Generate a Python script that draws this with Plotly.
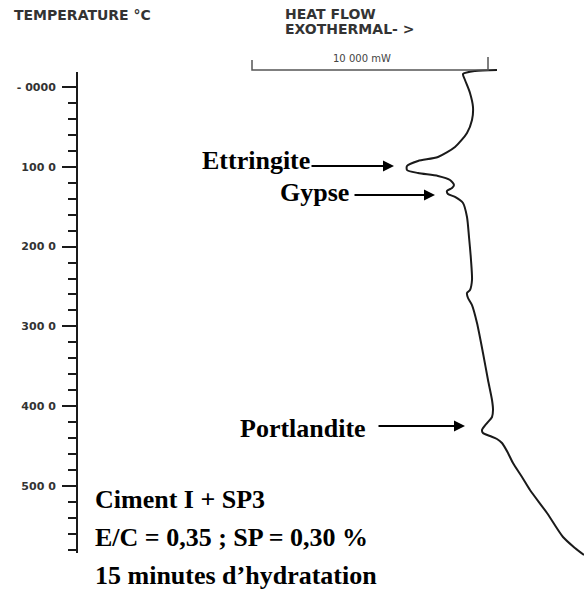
import plotly.graph_objects as go

# ---------------- data ----------------
# heat flow in mW (arbitrary zero at left end of the 10 000 mW scale bar), temperature in deg C
heat_flow_mw = [10381, 9449, 8941, 9025, 9237, 9364, 9322, 9110, 8602, 7881,
                7034, 6568, 6568, 7034, 7881, 8390, 8559, 8475, 8263, 8305,
                8602, 8941, 9110, 9195, 9280, 9322, 9237, 9110, 9153, 9322,
                9534, 9788, 10000, 10170, 10212, 10170, 9958, 9746, 9788, 10085,
                10381, 10593, 10847, 11059, 11441, 11780, 12500, 13178, 13686, 14068]
temperature_c = [-21.3, -20.1, -16.3, -8.8, 7.5, 25.1, 41.4, 57.6, 75.2, 87.7,
                 92.7, 99.0, 104.0, 107.8, 111.5, 116.5, 122.8, 126.6, 130.3, 134.1,
                 137.8, 145.4, 162.9, 188.0, 216.8, 241.9, 254.4, 258.1, 264.4, 273.2,
                 295.7, 333.3, 367.2, 392.2, 404.8, 413.5, 421.1, 429.8, 433.6, 437.3,
                 441.1, 446.1, 458.6, 471.2, 488.7, 505.0, 533.8, 563.9, 577.7, 586.5]

major_ticks = [0, 100, 200, 300, 400, 500]
major_labels = ["- 0000", "100 0", "200 0", "300 0", "400 0", "500 0"]
minor_ticks = [20, 40, 60, 80, 120, 140, 160, 180, 220, 240, 260, 280,
               320, 340, 360, 380, 420, 440, 460, 480, 520, 540, 560, 580]
axis_span_c = [-18.8, 584.0]

scale_bar_mw = [0, 10000]
scale_bar_label = "10 000 mW"

peak_labels = ["Ettringite", "Gypse", "Portlandite"]
peak_temps = [99.0, 135.3, 424.8]
arrow_tip_mw = [6017, 7754, 9025]
arrow_tail_mw = [2458, 4280, 5297]

info_lines = ["Ciment I + SP3", "E/C = 0,35 ; SP = 0,30 %", "15 minutes d\u2019hydratation"]

# ---------------- figure ----------------
W, H = 584, 590
def px(x):
    return x / W
def py(y):
    return 1 - y / H

ink = "#1a1a1a"
gray = "#333333"
mono = dict(family="DejaVu Sans", size=14, color=gray, weight="bold")
serif = dict(family="Liberation Serif", size=26, color="black", weight="bold")

fig = go.Figure()

# thermogram curve
fig.add_trace(go.Scatter(x=heat_flow_mw, y=temperature_c, mode="lines",
                         line=dict(color=ink, width=2, shape="spline", smoothing=0.7),
                         hoverinfo="skip", showlegend=False))

# scale bar (10 000 mW) with end ticks
bar_y = -21.3
fig.add_trace(go.Scatter(x=[scale_bar_mw[0], scale_bar_mw[0], scale_bar_mw[1], scale_bar_mw[1]],
                         y=[-33.8, bar_y, bar_y, -37.6],
                         mode="lines", line=dict(color="#555555", width=1.5),
                         hoverinfo="skip", showlegend=False))

# temperature axis line
fig.add_shape(type="line", xref="paper", yref="y", x0=px(77), x1=px(77),
              y0=axis_span_c[0], y1=axis_span_c[1], line=dict(color=ink, width=2))

fig.update_layout(
    width=W, height=H, margin=dict(l=0, r=0, t=0, b=0),
    paper_bgcolor="white", plot_bgcolor="white",
    xaxis=dict(visible=False, range=[-10678, 14068], fixedrange=True),
    yaxis=dict(range=[630.3, -109.0], anchor="free", position=px(77),
               showgrid=False, zeroline=False, showline=False,
               tickmode="array", tickvals=major_ticks, ticktext=major_labels,
               ticks="outside", ticklen=15, tickwidth=1.5, tickcolor=ink,
               ticklabelstandoff=4,
               tickfont=dict(family="DejaVu Sans", size=11, color=gray, weight="bold"),
               minor=dict(tickmode="array", tickvals=minor_ticks, ticks="outside",
                          ticklen=9, tickwidth=1.5, tickcolor=ink),
               fixedrange=True),
    showlegend=False,
)

ann = []
ann.append(dict(text="TEMPERATURE \u00b0C", x=px(12), y=py(15.5), xref="paper", yref="paper",
                xanchor="left", yanchor="middle", showarrow=False, font=mono))
ann.append(dict(text="HEAT FLOW", x=px(283), y=py(14), xref="paper", yref="paper",
                xanchor="left", yanchor="middle", showarrow=False, font=mono))
ann.append(dict(text="EXOTHERMAL- >", x=px(283), y=py(29), xref="paper", yref="paper",
                xanchor="left", yanchor="middle", showarrow=False, font=mono))
ann.append(dict(text=scale_bar_label, x=px(362), y=py(59), xref="paper", yref="paper",
                xanchor="center", yanchor="middle", showarrow=False,
                font=dict(family="DejaVu Sans", size=10, color="#444444")))

label_left = [200, 278, 238]
label_mid = [160.5, 192, 428]
for lab, t, tip, tail, lx, ly in zip(peak_labels, peak_temps, arrow_tip_mw, arrow_tail_mw, label_left, label_mid):
    ann.append(dict(text=lab, x=px(lx), y=py(ly), xref="paper", yref="paper",
                    xanchor="left", yanchor="middle", showarrow=False, font=serif))
    ann.append(dict(text="", x=tip, y=t, xref="x", yref="y", ax=tail, ay=t,
                    axref="x", ayref="y", showarrow=True, arrowhead=2, arrowsize=1.1,
                    arrowwidth=2, arrowcolor="black", standoff=0, startstandoff=0))

for i, line in enumerate(info_lines):
    ann.append(dict(text=line, x=px(93), y=py(499 + 38 * i), xref="paper", yref="paper",
                    xanchor="left", yanchor="middle", showarrow=False, font=serif))

fig.update_layout(annotations=ann)

fig.write_html("out.html", config={"displayModeBar": False},
               post_script="document.body.style.margin='0';")
